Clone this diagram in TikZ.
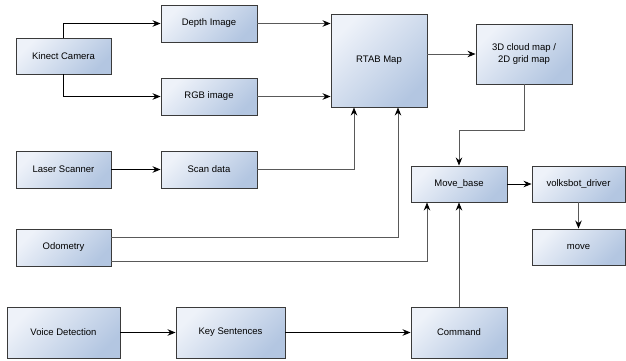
\documentclass[tikz,border=0pt]{standalone}
\usepackage{fontspec}
\setmainfont{Liberation Sans}
\usetikzlibrary{arrows.meta}
\definecolor{boxlight}{HTML}{EEF2F9}
\definecolor{boxdark}{HTML}{B3C6E1}
\definecolor{boxline}{HTML}{3A3A3A}
\tikzset{
	block/.style={
			draw=boxline, line width=0.9pt, top color=boxlight, bottom color=boxdark,
			shading angle=45, align=center, inner sep=0pt,
			font=\fontsize{9.5}{12}\selectfont
		},
	link/.style={-{Stealth[length=8pt,width=6.5pt,color=black]}, line width=0.9pt, black},
	feed/.style={link, draw=black!65}
}

\begin{document}
\begin{tikzpicture}[x=1pt, y=-1pt]
		\useasboundingbox (0,0) rectangle (626,360);

		\node [block, minimum width=95pt, minimum height=36pt]	(kinect)	at (63.5, 56)	{Kinect Camera};
		\node [block, minimum width=96pt, minimum height=37pt]	(depth)		at (209, 23.5)	{Depth Image};
		\node [block, minimum width=96pt, minimum height=37pt]	(rgb)		at (209, 96.5)	{RGB image};
		\node [block, minimum width=95pt, minimum height=37pt]	(laser)		at (63.5, 169.5)	{Laser Scanner};
		\node [block, minimum width=96pt, minimum height=37pt]	(scan)		at (209, 169.5)	{Scan data};
		\node [block, minimum width=96pt, minimum height=93pt]	(rtab)		at (379, 60.5)	{RTAB Map};
		\node [block, minimum width=96pt, minimum height=60pt]	(cloud)		at (524, 54)	{3D cloud map /\\2D grid map};
		\node [block, minimum width=96pt, minimum height=36pt]	(mbase)		at (459, 184)	{Move\_base};
		\node [block, minimum width=93pt, minimum height=36pt]	(driver)	at (578.5, 184)	{volksbot\_driver};
		\node [block, minimum width=93pt, minimum height=36pt]	(move)		at (578.5, 247)	{move};
		\node [block, minimum width=95pt, minimum height=37pt]	(odo)		at (63.5, 247.5)	{Odometry};
		\node [block, minimum width=113pt, minimum height=51pt]	(voice)		at (63.5, 332.5)	{Voice Detection};
		\node [block, minimum width=109pt, minimum height=51pt]	(keys)		at (230.5, 332.5)	{Key Sentences};
		\node [block, minimum width=96pt, minimum height=51pt]	(cmd)		at (459, 332.5)	{Command};

		% sensors
		\draw [link]	(kinect.north) |- (depth.west);
		\draw [link]	(kinect.south) |- (rgb.west);
		\draw [link]	(laser.east) -- (scan.west);

		% mapping
		\draw [feed]	(depth.east) -- (depth.east -| rtab.west);
		\draw [feed]	(rgb.east) -- (rgb.east -| rtab.west);
		\draw [feed]	(scan.east) -| ([xshift=-25pt]rtab.south);
		\draw [feed]	([yshift=10.5pt]odo.east) -| ([xshift=19pt]rtab.south);
		\draw [feed]	(rtab.east |- cloud.west) -- (cloud.west);
		\draw [feed]	(cloud.south) -- ++(0, 46) -| (mbase.north);

		% navigation
		\draw [feed]	([yshift=-13.5pt]odo.east) -| ([xshift=-32pt]mbase.south);
		\draw [link]	(mbase.east) -- (driver.west);
		\draw [feed]	(driver.south) -- (move.north);

		% voice
		\draw [link]	(voice.east) -- (keys.west);
		\draw [link]	(keys.east) -- (cmd.west);
		\draw [feed]	(cmd.north) -- (mbase.south);
	\end{tikzpicture}
\end{document}
